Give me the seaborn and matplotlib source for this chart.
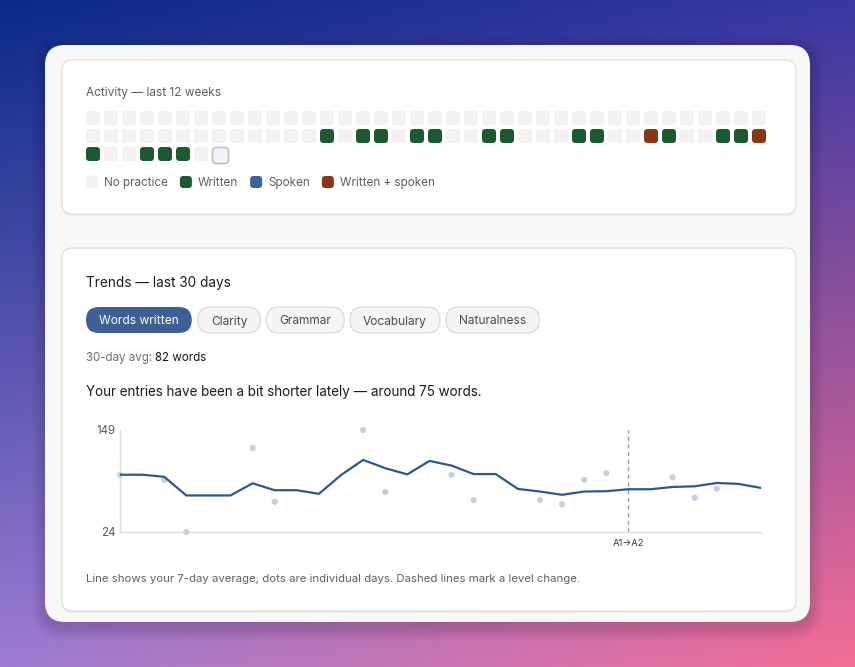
import numpy as np
import matplotlib
matplotlib.use("Agg")
import matplotlib.pyplot as plt
import seaborn as sns
from matplotlib.patches import FancyBboxPatch
from matplotlib.colors import to_rgb

# ---------------- data ----------------
days = list(range(30))
avg7 = [94.2, 94.2, 91.7, 68.8, 68.8, 68.8, 83.7, 75.2, 75.2, 70.8,
        93.8, 112.3, 102.2, 94.6, 111.1, 105.4, 95.0, 95.0, 76.8, 73.6,
        69.6, 73.6, 74.0, 76.4, 76.4, 79.2, 80.0, 84.1, 82.9, 78.0]
entry_days = [0, 2, 3, 6, 7, 11, 12, 15, 16, 19, 20, 21, 22, 25, 26, 27]
entry_words = [94, 88, 24, 127, 61, 149, 73, 94, 63, 63, 58, 88, 96, 91, 66, 77]
level_change_day = 23
level_change_label = "A1→A2"
y_ticks = [24, 149]

# activity: 0 none, 1 written, 2 spoken, 3 written + spoken, 4 today (empty)
activity_row1 = [0] * 38
activity_row2 = [0, 0, 0, 0, 0, 0, 0, 0, 0, 0, 0, 0, 0, 1, 0, 1, 1, 0, 1, 1,
                 0, 0, 1, 1, 0, 0, 0, 1, 1, 0, 0, 3, 1, 0, 0, 1, 1, 3]
activity_row3 = [1, 0, 0, 1, 1, 1, 0, 4]
activity = activity_row1 + activity_row2 + activity_row3

legend_labels = ["No practice", "Written", "Spoken", "Written + spoken"]
legend_codes = [0, 1, 2, 3]
metric_tabs = ["Words written", "Clarity", "Grammar", "Vocabulary", "Naturalness"]
active_tab = 0

title_activity = "Activity — last 12 weeks"
title_trends = "Trends — last 30 days"
avg_label = "30-day avg: "
avg_value = "82 words"
insight = "Your entries have been a bit shorter lately — around 75 words."
footnote = "Line shows your 7-day average; dots are individual days. Dashed lines mark a level change."

# ---------------- style ----------------
cell_colors = {0: "#f2f2f0", 1: "#1b5a30", 2: "#3f6399", 3: "#8a3516", 4: "#f4f4f2"}
line_color = "#2e5690"
dot_color = "#c4cfe0"

sns.set_theme(style="white")
plt.rcParams["font.family"] = ["Inter", "DejaVu Sans"]

W, H = 855, 667
fig = plt.figure(figsize=(W / 100, H / 100), dpi=100)
bg = fig.add_axes([0, 0, 1, 1])
bg.set_xlim(0, W)
bg.set_ylim(H, 0)
bg.axis("off")

# gradient background (bilinear between corner colours)
tl, tr = np.array(to_rgb("#0a2a88")), np.array(to_rgb("#3838a2"))
bl, br = np.array(to_rgb("#9c7dd3")), np.array(to_rgb("#f46e95"))
u = np.linspace(0, 1, 200)[None, :, None]
v = np.linspace(0, 1, 160)[:, None, None]
grad = (1 - v) * ((1 - u) * tl + u * tr) + v * ((1 - u) * bl + u * br)
bg.imshow(np.clip(grad, 0, 1), extent=(0, W, H, 0), aspect="auto", zorder=0)


def rbox(x, y, w, h, r, fc, ec="none", lw=0, z=1, alpha=1.0):
    p = FancyBboxPatch((x, y), w, h, boxstyle=f"round,pad=0,rounding_size={r}",
                       fc=fc, ec=ec, lw=lw, zorder=z, alpha=alpha)
    bg.add_patch(p)
    return p


# card shadow
for k in range(7):
    g = 1 + k * 2.0
    rbox(45 - g, 45 - g + 5, 765 + 2 * g, 577 + 2 * g, 20 + g, "black", z=1, alpha=0.018)
rbox(45, 45, 765, 577, 20, "#f8f8f6", z=2)

# panels
for (py, ph) in [(60, 154), (248, 363)]:
    rbox(62, py + 2, 734, ph, 10, "#000000", z=3, alpha=0.05)
    rbox(62, py, 734, ph, 10, "white", ec="#e1e1dd", lw=1, z=4)

txt_kw = dict(zorder=10, va="baseline")
bg.text(86, 96, title_activity, fontsize=8.5, color="#585d66", **txt_kw)

# activity grid
cols = 38
cell, pitch = 14, 18
for i, code in enumerate(activity):
    r, c = divmod(i, cols)
    x0 = 86 + c * pitch
    y0 = 111 + r * pitch
    if code == 4:
        rbox(x0 + 0.5, y0 + 0.5, cell + 2, cell + 2, 4, cell_colors[4], ec="#b9c5d8", lw=1.3, z=6)
    else:
        rbox(x0, y0, cell, cell, 3.5, cell_colors[code], z=6)

# legend
fig.canvas.draw()
renderer = fig.canvas.get_renderer()
lx = 86
for lab, code in zip(legend_labels, legend_codes):
    rbox(lx, 176, 12, 12, 3.5, cell_colors[code], z=6)
    t = bg.text(lx + 18, 186.3, lab, fontsize=8.4, color="#585d66", **txt_kw)
    bb = t.get_window_extent(renderer)
    lx = lx + 18 + bb.width + 12

# trends header
bg.text(86, 287, title_trends, fontsize=9.8, color="#1b1b1b", **txt_kw)

# tabs
tx = 86
for i, lab in enumerate(metric_tabs):
    t = bg.text(0, 324.5, lab, fontsize=8.6, ha="center",
                color="white" if i == active_tab else "#474b52", **txt_kw)
    bw = t.get_window_extent(renderer).width + 26
    t.set_x(tx + bw / 2)
    if i == active_tab:
        rbox(tx, 307, bw, 26, 13, "#3e5f96", z=6)
    else:
        rbox(tx, 307, bw, 26, 13, "#f5f5f3", ec="#dcdcd8", lw=1, z=6)
    tx += bw + 6

# average line
t = bg.text(86, 361.3, avg_label, fontsize=8.3, color="#6a6e76", **txt_kw)
aw = t.get_window_extent(renderer).width
bg.text(86 + aw, 361.3, avg_value, fontsize=8.3, color="#151515", **txt_kw)

bg.text(86, 396, insight, fontsize=9.7, color="#1b1b1b", **txt_kw)
bg.text(86, 582.2, footnote, fontsize=8.2, color="#5d616a", **txt_kw)

# ---------------- chart ----------------
ax_l, ax_r, ax_t, ax_b = 120, 761, 430, 532
ax = fig.add_axes([ax_l / W, 1 - ax_b / H, (ax_r - ax_l) / W, (ax_b - ax_t) / H])
ax.set_facecolor("none")
ax.set_zorder(20)

sns.scatterplot(x=entry_days, y=entry_words, ax=ax, color=dot_color, s=20,
                edgecolor="none", zorder=3, clip_on=False, legend=False)
sns.lineplot(x=days, y=avg7, ax=ax, color=line_color, lw=1.6, zorder=4)
ax.axvline(level_change_day, color="#9a9a9a", lw=1, ls=(0, (3, 2.5)), zorder=2)
ax.annotate(level_change_label, xy=(level_change_day, 0), xycoords=("data", "axes fraction"),
            xytext=(0, -8), textcoords="offset points", ha="center", va="center",
            fontsize=6.8, color="#333333")

ax.set_xlim(0, 29)
ax.set_ylim(y_ticks[0], y_ticks[-1])
ax.set_yticks(y_ticks)
ax.set_yticklabels([str(v) for v in y_ticks])
ax.set_xticks([])
ax.tick_params(axis="y", length=0, pad=3, labelsize=8.3, labelcolor="#555a62")
for s in ["top", "right"]:
    ax.spines[s].set_visible(False)
for s in ["left", "bottom"]:
    ax.spines[s].set_color("#dedede")
    ax.spines[s].set_linewidth(1)
ax.set_xlabel("")
ax.set_ylabel("")

fig.savefig("out.png", dpi=100)
